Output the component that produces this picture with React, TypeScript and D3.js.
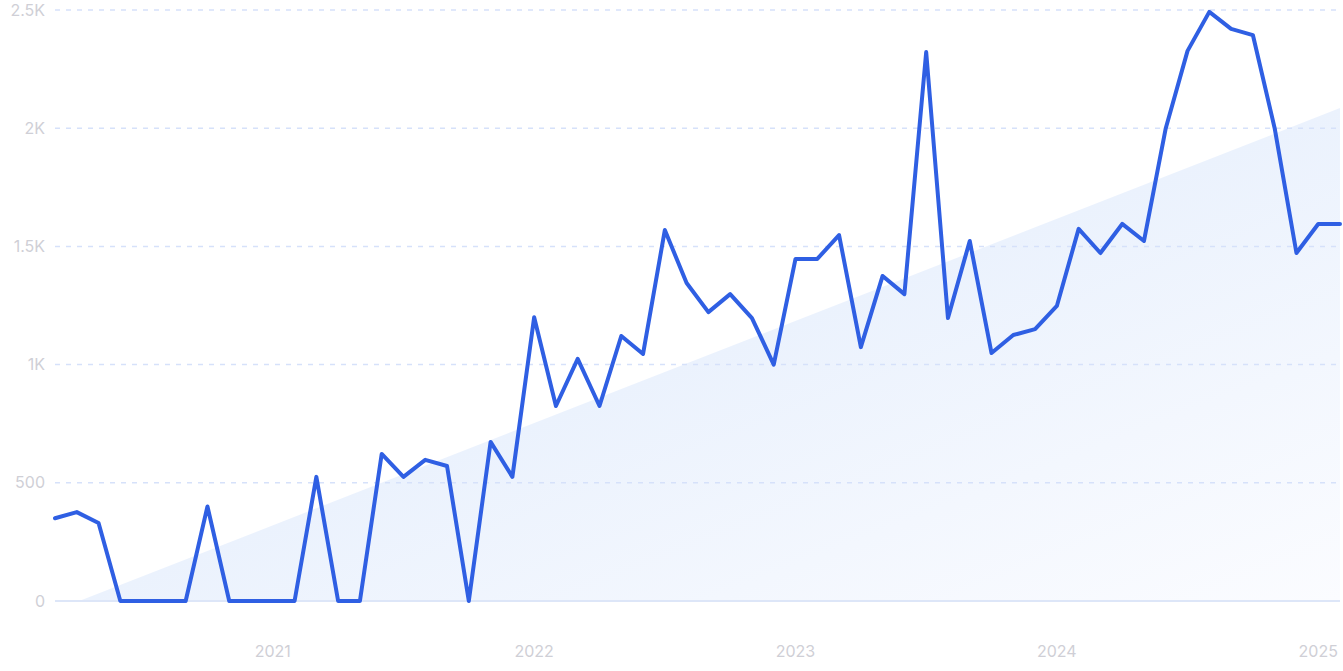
import * as d3 from "d3";
import React from "react";

// monthly values, Mar 2020 .. Feb 2025
const startMonth = new Date(2020, 2, 1);
const values = [
  350, 376, 330, 0, 0, 0, 0, 400, 0, 0,
  0, 0, 525, 0, 0, 622, 525, 597, 571, 0,
  673, 525, 1200, 825, 1024, 825, 1121, 1045, 1569, 1345,
  1222, 1298, 1197, 1000, 1447, 1447, 1548, 1074, 1375, 1298,
  2322, 1197, 1523, 1049, 1125, 1150, 1248, 1574, 1472, 1595,
  1523, 2000, 2327, 2492, 2420, 2394, 2000, 1472, 1595, 1595,
];
const yTicks = [0, 500, 1000, 1500, 2000, 2500];
const yTickLabels = ["0", "500", "1K", "1.5K", "2K", "2.5K"];
const xTickYears = [2021, 2022, 2023, 2024, 2025];
// trend line endpoints (first and last month)
const trendValues = [-40, 2085];

const W = 1343;
const H = 671;
const M = { top: 10, right: 3, bottom: 70, left: 55 };

export default function App() {
  const n = values.length;
  // months since start, evenly spaced
  const monthIndex = (d: Date) =>
    (d.getFullYear() - startMonth.getFullYear()) * 12 +
    d.getMonth() -
    startMonth.getMonth();

  const x = d3
    .scaleLinear()
    .domain([0, n - 1])
    .range([M.left, W - M.right]);
  const y = d3
    .scaleLinear()
    .domain([0, 2500])
    .range([H - M.bottom, M.top]);

  const line = d3
    .line<number>()
    .x((_, i) => x(i))
    .y((d) => y(d));

  // trend triangle, clipped at zero
  const t0 = trendValues[0];
  const t1 = trendValues[1];
  const zeroIdx = ((0 - t0) / (t1 - t0)) * (n - 1);
  const trendPts: [number, number][] = [
    [x(zeroIdx), y(0)],
    [x(n - 1), y(t1)],
    [x(n - 1), y(0)],
  ];
  const trendPath = d3.line()(trendPts) + "Z";

  const font = "Inter, 'Noto Sans', sans-serif";

  return (
    <div style={{ position: "absolute", left: 0, top: 0 }}>
      <svg width={W} height={H} style={{ display: "block" }}>
        <defs>
          <linearGradient id="trendFill" x1="0" y1="0" x2="1" y2="1">
            <stop offset="0%" stopColor="#dbe8fb" />
            <stop offset="100%" stopColor="#fbfcff" />
          </linearGradient>
        </defs>
        <path d={trendPath} fill="url(#trendFill)" />
        {yTicks.map((t, i) => (
          <g key={t}>
            <line
              x1={M.left}
              x2={W - M.right}
              y1={y(t)}
              y2={y(t)}
              stroke={t === 0 ? "#dde6f8" : "#d6e1fa"}
              strokeWidth={t === 0 ? 2 : 1.5}
              strokeDasharray={t === 0 ? undefined : "5 6"}
            />
            <text
              x={45}
              y={y(t)}
              dy="0.35em"
              textAnchor="end"
              fill="#cfcfd6"
              fontSize={16}
              fontFamily={font}
            >
              {yTickLabels[i]}
            </text>
          </g>
        ))}
        {xTickYears.map((yr) => (
          <text
            key={yr}
            x={x(monthIndex(new Date(yr, 0, 1)))}
            y={651}
            dy="0.35em"
            textAnchor="middle"
            fill="#cfcfd6"
            fontSize={16}
            fontFamily={font}
          >
            {yr}
          </text>
        ))}
        <path
          d={line(values) || ""}
          fill="none"
          stroke="#2f5fe3"
          strokeWidth={4}
          strokeLinejoin="round"
          strokeLinecap="round"
        />
      </svg>
    </div>
  );
}
